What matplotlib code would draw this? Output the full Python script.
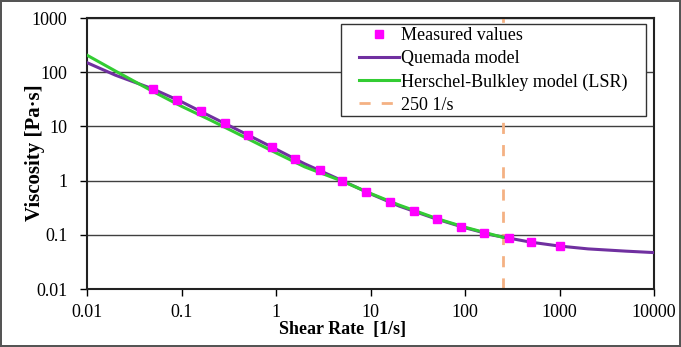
import numpy as np
import matplotlib.pyplot as plt
from matplotlib.patches import Rectangle
from matplotlib.ticker import FixedLocator, NullLocator

# measured points
shear_meas = [0.05, 0.09, 0.16, 0.29, 0.5, 0.9, 1.6, 2.9, 5, 9, 16, 29,
              50, 90, 160, 290, 500, 1000]
visc_meas = [49, 31.2, 19.0, 11.6, 6.85, 4.16, 2.47, 1.56, 0.98, 0.61, 0.395,
             0.277, 0.194, 0.142, 0.110, 0.0877, 0.073, 0.0634]

# Quemada model curve
shear_q = [0.01, 0.02, 0.05, 0.1, 0.2, 0.5, 1, 2, 5, 10, 20, 50, 100, 200,
           500, 1000, 2000, 5000, 10000]
visc_q = [150, 88, 49, 28.5, 15.5, 7.0, 3.8, 2.05, 1.0, 0.57, 0.34, 0.195,
          0.135, 0.098, 0.073, 0.062, 0.055, 0.050, 0.047]

# Herschel-Bulkley model (LSR) curve
shear_hb = [0.01, 0.02, 0.05, 0.1, 0.2, 0.5, 1, 2, 5, 10, 20, 50, 100, 250]
visc_hb = [206, 105, 44, 23.5, 13.2, 5.95, 3.25, 1.8, 0.98, 0.58, 0.355,
           0.2, 0.138, 0.09]

cutoff = 250

plt.rcParams['font.family'] = ['Liberation Serif', 'DejaVu Serif']

fig = plt.figure(figsize=(6.81, 3.47), dpi=100)
fig.patch.set_edgecolor('#555555')
fig.patch.set_linewidth(1.5)
ax = fig.add_axes([0.1278, 0.1671, 0.8326, 0.7810])

ax.plot(shear_q, visc_q, color='#7030A0', lw=2.2, label='Quemada model',
        zorder=3)
ax.plot(shear_hb, visc_hb, color='#33CC33', lw=2.2,
        label='Herschel-Bulkley model (LSR)', zorder=4)
ax.axvline(cutoff, color='#F4B183', lw=2, ls=(0, (4, 4)), label='250 1/s',
           zorder=2)
ax.plot(shear_meas, visc_meas, ls='none', marker='s', ms=6, color='#FF00FF',
        label='Measured values', zorder=5)

ax.set_xscale('log')
ax.set_yscale('log')
ax.set_xlim(0.01, 10000)
ax.set_ylim(0.01, 1000)

xt = [0.01, 0.1, 1, 10, 100, 1000, 10000]
yt = [0.01, 0.1, 1, 10, 100, 1000]
ax.xaxis.set_major_locator(FixedLocator(xt))
ax.yaxis.set_major_locator(FixedLocator(yt))
ax.xaxis.set_minor_locator(NullLocator())
ax.yaxis.set_minor_locator(NullLocator())
ax.set_xticklabels(['0.01', '0.1', '1', '10', '100', '1000', '10000'])
ax.set_yticklabels(['0.01', '0.1', '1', '10', '100', '1000'])
ax.tick_params(labelsize=13, length=5, width=1, direction='out')
ax.tick_params(axis='x', pad=6)
ax.tick_params(axis='y', pad=9)

ax.grid(axis='y', color='#404040', lw=1)
ax.set_axisbelow(True)
for s in ax.spines.values():
    s.set_linewidth(1.5)
    s.set_color('#222222')

ax.set_xlabel('Shear Rate  [1/s]', fontsize=13, fontweight='bold')
ax.xaxis.set_label_coords(0.4515, -0.118)
ax.set_ylabel('Viscosity [Pa·s]', fontsize=15, fontweight='bold')
ax.yaxis.set_label_coords(-0.075, 0.502)

# legend: frameless, with a separate box drawn behind it
handles, labels = ax.get_legend_handles_labels()
order = [3, 0, 1, 2]
leg = ax.legend([handles[i] for i in order], [labels[i] for i in order],
                loc='upper left', bbox_to_anchor=(359 / 681, 1 - 27 / 347),
                bbox_transform=fig.transFigure, fontsize=13, frameon=False,
                handlelength=2.2, handletextpad=0.15, labelspacing=0.34,
                borderpad=0, borderaxespad=0)
leg.set_zorder(7)
box = Rectangle((341 / 681, 1 - 116 / 347), 305 / 681, 92 / 347,
                transform=fig.transFigure, facecolor='white',
                edgecolor='#333333', lw=1, zorder=6)
fig.add_artist(box)
fig.add_artist(leg)

fig.savefig('out.png', dpi=100)
